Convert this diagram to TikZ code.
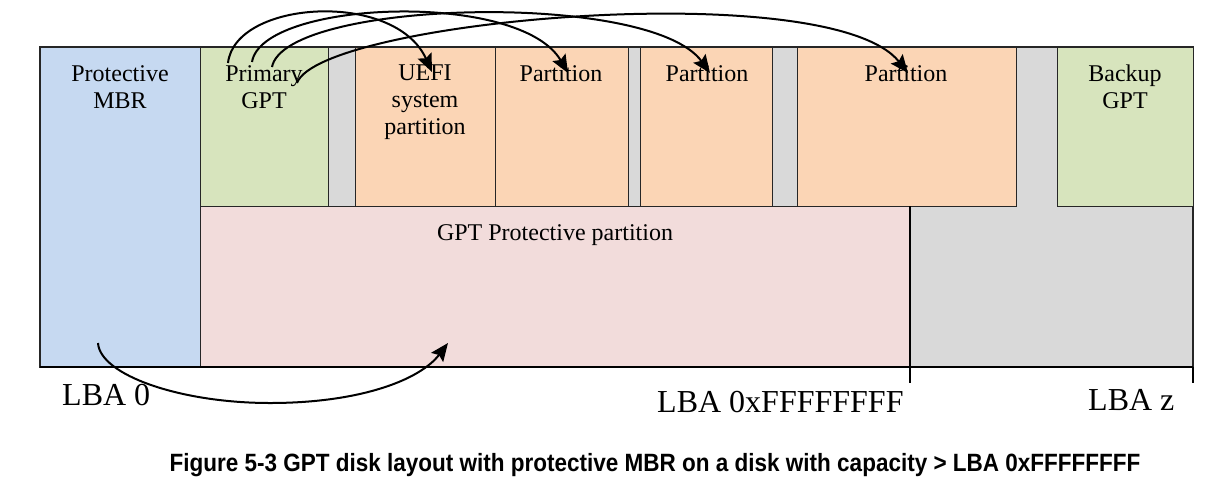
\documentclass[tikz,border=0pt]{standalone}
\usepackage{fontspec}
\setmainfont{Liberation Serif}
\newfontfamily\capfont[FakeStretch=0.9]{Liberation Sans}
\usetikzlibrary{arrows.meta}
\definecolor{mbrblue}{RGB}{198,217,241}
\definecolor{gptgreen}{RGB}{215,228,189}
\definecolor{partorange}{RGB}{251,213,181}
\definecolor{protpink}{RGB}{242,220,219}
\definecolor{gapgray}{RGB}{217,217,217}
\begin{document}
\begin{tikzpicture}[x=1pt,y=-1pt,
  region/.style={draw=black!85,line width=1.3pt},
  lbl/.style={inner sep=0pt,anchor=north,align=center,font=\fontsize{24}{27}\selectfont},
  lba/.style={inner sep=0pt,anchor=base west,font=\fontsize{32}{36}\selectfont},
  link/.style={line width=2pt,-{Stealth[length=18pt,width=15pt,inset=3pt]}}]
\useasboundingbox (0,0) rectangle (1209,483);
% background disk
\path[region,fill=gapgray] (40,47) rectangle (1193,367);
\node[region,fill=mbrblue,minimum width=160pt,minimum height=320pt,anchor=north west,inner sep=0pt] (mbr) at (40,47) {};
\node[region,fill=gptgreen,minimum width=128pt,minimum height=159pt,anchor=north west,inner sep=0pt] (pgpt) at (200,47) {};
\node[region,fill=partorange,minimum width=140pt,minimum height=159pt,anchor=north west,inner sep=0pt] (uefi) at (355,47) {};
\node[region,fill=partorange,minimum width=133pt,minimum height=159pt,anchor=north west,inner sep=0pt] (p1) at (495,47) {};
\node[region,fill=partorange,minimum width=132pt,minimum height=159pt,anchor=north west,inner sep=0pt] (p2) at (640,47) {};
\node[region,fill=partorange,minimum width=219pt,minimum height=159pt,anchor=north west,inner sep=0pt] (p3) at (797,47) {};
\node[region,fill=gptgreen,minimum width=136pt,minimum height=159pt,anchor=north west,inner sep=0pt] (bgpt) at (1057,47) {};
\node[region,fill=protpink,minimum width=710pt,minimum height=161pt,anchor=north west,inner sep=0pt] (prot) at (200,206) {};
% bottom axis
\coordinate (axl) at (40,367);
\coordinate (axr) at (1193,367);
\coordinate (t1a) at (910,206);
\coordinate (t1b) at (910,383);
\coordinate (t2a) at (1193,367);
\coordinate (t2b) at (1193,383);
\draw[line width=2.2pt] (axl) -- (axr);
\draw[line width=1.3pt] (t1a) -- (t1b);
\draw[line width=1.3pt] (t2a) -- (t2b);
% labels
\node[lbl] (tmbr) at (120,65) {Protective\\MBR};
\node[lbl] (tpgpt) at (264,65) {Primary\\GPT};
\node[lbl] (tuefi) at (425,65) {UEFI\\system\\partition};
\node[lbl] (tp1) at (561,65) {Partition};
\node[lbl] (tp2) at (707,65) {Partition};
\node[lbl] (tp3) at (906,65) {Partition};
\node[lbl] (tbgpt) at (1125,65) {Backup\\GPT};
\node[lbl] (tprot) at (555,224) {GPT Protective partition};
\node[lba] (l0) at (62,405) {LBA 0};
\node[lba] (lf) at (657,412) {LBA 0xFFFFFFFF};
\node[lba] (lz) at (1088,410) {LBA z};
% connectors
\coordinate (s1) at (228,63);
\coordinate (s2) at (252,62);
\coordinate (s3) at (272,67);
\coordinate (s4) at (297,83);
\coordinate (e1) at (432,72);
\coordinate (e2) at (568,73);
\coordinate (e3) at (710,73);
\coordinate (e4) at (908,73);
\draw[link] (s1) .. controls (235,0) and (395,-10) .. (e1);
\draw[link] (s2) .. controls (262,0) and (520,-10) .. (e2);
\draw[link] (s3) .. controls (285,0) and (650,-10) .. (e3);
\draw[link] (s4) .. controls (320,20) and (830,-25) .. (e4);
\coordinate (sm) at (98,343);
\coordinate (em) at (448,343);
\draw[link] (sm) .. controls (100,375) and (180,403) .. (270,403) .. controls (360,403) and (420,380) .. (em);
% caption
\node[inner sep=0pt,anchor=base,font=\capfont\bfseries\fontsize{25}{30}\selectfont] (cap) at (655,471) {Figure 5-3 GPT disk layout with protective MBR on a disk with capacity > LBA 0xFFFFFFFF};
\end{tikzpicture}
\end{document}
